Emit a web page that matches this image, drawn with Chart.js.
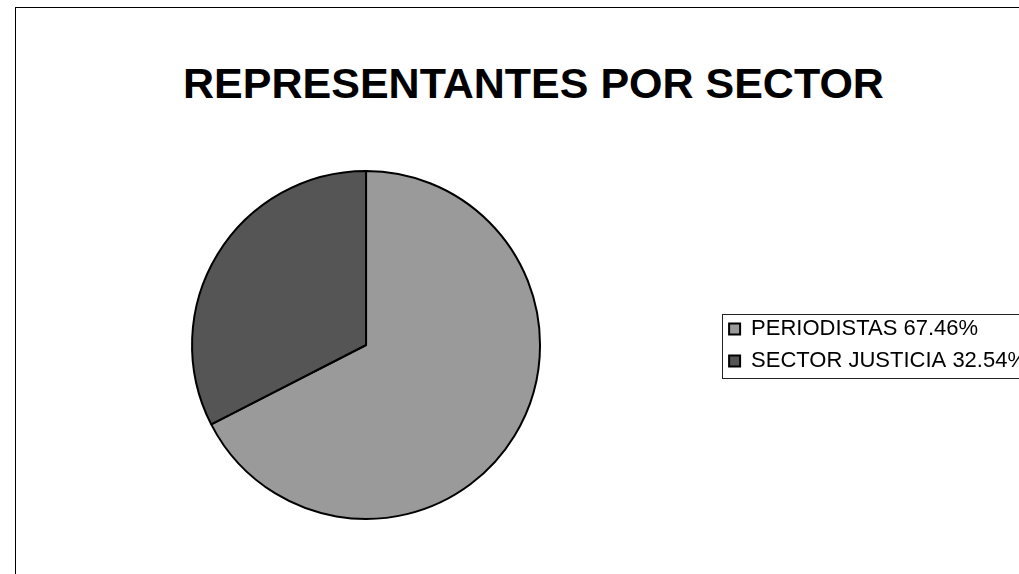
<!DOCTYPE html>
<html>
<head>
  <title>REPRESENTANTES POR SECTOR</title>
  <style>
    html, body { margin: 0; padding: 0; background: #fff; }
    body { width: 1019px; height: 574px; overflow: hidden; position: relative; }
    #frame {
      position: absolute; left: 15px; top: 7px; width: 1200px; height: 800px;
      border-left: 1px solid #000; border-top: 1px solid #000;
    }
    h1 {
      position: absolute; left: 0; top: 62px; width: 1067px; margin: 0;
      font: bold 43px/43px "Liberation Sans", Arial, sans-serif;
      text-align: center; color: #000; white-space: nowrap;
    }
    #chartBox { position: absolute; left: 0; top: 0; width: 1037px; height: 574px; }
  </style>
</head>
<body>
  <div id="frame"></div>
  <h1>REPRESENTANTES POR SECTOR</h1>
  <div id="chartBox">
    <canvas id="sectorChart"></canvas>
  </div>

<script src="https://cdn.jsdelivr.net/npm/chart.js"></script>
<script>
  // values
  const sectorLabels = ['PERIODISTAS', 'SECTOR JUSTICIA'];
  const sectorPercent = [67.46, 32.54];

  // thin box round the legend, like the old Excel legend frame
  const legendFrame = {
    id: 'legendFrame',
    afterDraw(chart) {
      const boxes = chart.legend.legendHitBoxes;
      if (!boxes || !boxes.length) return;
      const first = boxes[0];
      const last = boxes[boxes.length - 1];
      const top = Math.round(first.top + first.height / 2) - 14.5;
      const bottom = Math.round(last.top + last.height / 2) + 17.5;
      const ctx = chart.ctx;
      ctx.save();
      ctx.strokeStyle = '#222';
      ctx.lineWidth = 1;
      ctx.strokeRect(Math.round(first.left) - 6.5, top, 400, bottom - top);
      ctx.restore();
    }
  };

  const ctx = document.getElementById('sectorChart');

  new Chart(ctx, {
    type: 'pie',
    data: {
      labels: sectorLabels,
      datasets: [{
        data: sectorPercent,
        backgroundColor: ['#9a9a9a', '#555555'],
        borderColor: '#000',
        borderWidth: 2
      }]
    },
    options: {
      responsive: true,
      maintainAspectRatio: false,
      animation: false,
      layout: {
        padding: { left: 13, right: 0, top: 170, bottom: 54 }
      },
      plugins: {
        title: { display: false },
        tooltip: { enabled: false },
        legend: {
          position: 'right',
          labels: {
            color: '#000',
            boxWidth: 11,
            boxHeight: 11,
            padding: 10,
            font: { family: '"Liberation Sans", Arial, sans-serif', size: 22 },
            generateLabels(chart) {
              const items = Chart.overrides.doughnut.plugins.legend.labels.generateLabels(chart);
              items.forEach((item, i) => {
                item.text = sectorLabels[i] + ' ' + sectorPercent[i].toFixed(2) + '%';
              });
              return items;
            }
          }
        }
      }
    },
    plugins: [legendFrame]
  });
</script>
</body>
</html>
